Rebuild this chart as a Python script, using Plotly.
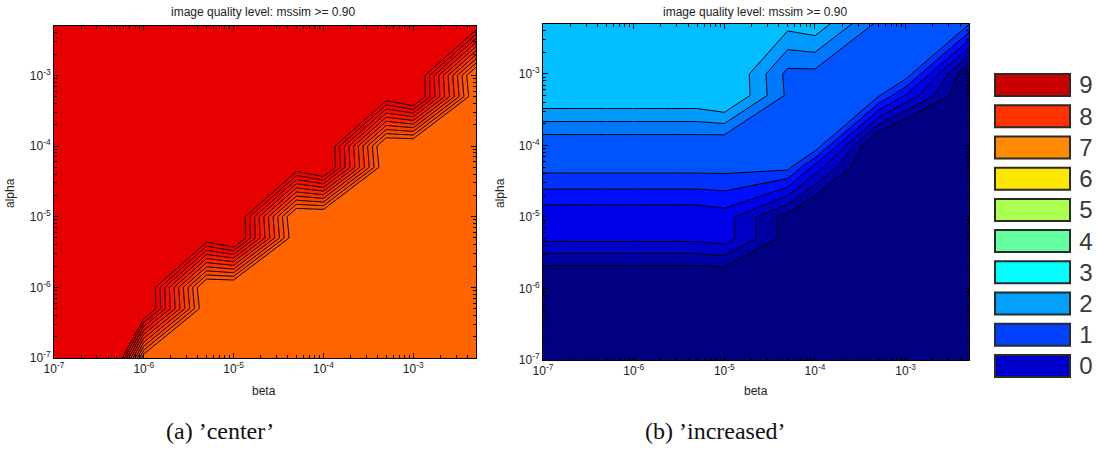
import math
import plotly.graph_objects as go

# sampling grid of the parameter sweep (same for both experiments)
beta = [1e-7, 5e-7, 1e-6, 5e-6, 1e-5, 5e-5, 1e-4, 5e-4, 1e-3, 5e-3]
alpha = [1e-7, 5e-7, 1e-6, 5e-6, 1e-5, 5e-5, 1e-4, 5e-4, 1e-3, 5e-3]

# quality level for the 'center' experiment, one row per alpha (low -> high)
level_center = [
    [9.3, 9.2, 7.95, 7.7, 7.7, 7.7, 7.7, 7.7, 7.7, 7.7],
    [9.3, 9.3, 9.2, 7.9, 7.7, 7.7, 7.7, 7.7, 7.7, 7.7],
    [9.3, 9.3, 9.2, 7.85, 7.85, 7.7, 7.7, 7.7, 7.7, 7.7],
    [9.3, 9.3, 9.3, 9.05, 9.2, 7.9, 7.7, 7.7, 7.7, 7.7],
    [9.3, 9.3, 9.3, 9.3, 9.2, 7.85, 7.85, 7.7, 7.7, 7.7],
    [9.3, 9.3, 9.3, 9.3, 9.3, 9.05, 9.2, 7.9, 7.7, 7.7],
    [9.3, 9.3, 9.3, 9.3, 9.3, 9.3, 9.2, 7.85, 7.85, 7.7],
    [9.3, 9.3, 9.3, 9.3, 9.3, 9.3, 9.3, 9.05, 9.2, 7.9],
    [9.3, 9.3, 9.3, 9.3, 9.3, 9.3, 9.3, 9.3, 9.2, 7.85],
    [9.3, 9.3, 9.3, 9.3, 9.3, 9.3, 9.3, 9.3, 9.3, 9.05],
]

# quality level for the 'increased' experiment, one row per alpha (low -> high)
level_increased = [
    [-1.5, -1.5, -1.5, -1.5, -1.5, -1.5, -1.5, -1.5, -1.5, -1.5],
    [-1.5, -1.5, -1.5, -1.5, -1.5, -1.5, -1.5, -1.5, -1.5, -1.5],
    [-1.425, -1.425, -1.425, -1.425, -1.425, -1.5, -1.5, -1.5, -1.5, -1.5],
    [2.75, 2.75, 2.75, 2.75, 3.0, 0.0, -1.5, -1.5, -1.5, -1.5],
    [2.75, 2.75, 2.75, 2.75, 3.0, 0.0, -1.5, -1.5, -1.5, -1.5],
    [5.875, 5.875, 5.875, 5.875, 5.875, 5.86, 3.14, -1.5, -1.5, -1.5],
    [5.66, 5.66, 5.66, 5.66, 5.55, 6.0, 6.3, -1.5, -2.9, -1.5],
    [9.5, 9.5, 9.5, 9.5, 10.0, 6.3, 6.1, 5.64, 3.4, -0.8],
    [9.5, 9.5, 9.5, 9.5, 10.0, 6.2, 6.2, 6.0, 6.13, -0.8],
    [9.7, 9.7, 9.7, 9.7, 9.7, 8.87, 9.2, 6.27, 6.1, 5.55],
]

# contour levels of each panel
center_start, center_end, center_step = 8.05, 8.95, 0.1
increased_start, increased_end, increased_step = 0.5, 8.5, 1.0

# fill colour of each band between consecutive contour levels (lowest first)
center_bands = ["rgb(255,100,0)", "rgb(255,87,0)", "rgb(255,75,0)", "rgb(255,62,0)",
                "rgb(255,50,0)", "rgb(255,37,0)", "rgb(255,25,0)", "rgb(255,12,0)",
                "rgb(255,0,0)", "rgb(242,0,0)", "rgb(230,0,0)"]
increased_bands = ["rgb(0,0,128)", "rgb(0,0,163)", "rgb(0,0,198)", "rgb(0,0,233)",
                   "rgb(0,14,255)", "rgb(0,49,255)", "rgb(0,84,255)", "rgb(0,119,255)",
                   "rgb(0,155,255)", "rgb(0,190,255)"]

# colour key
key_labels = ["0", "1", "2", "3", "4", "5", "6", "7", "8", "9"]
key_colors = ["#0000CC", "#0040FF", "#00A0FF", "#00FFFF", "#64FFA0",
              "#AAFF50", "#FFE600", "#FF8C00", "#FF3200", "#C80000"]
key_size = [1, 1, 1, 1, 1, 1, 1, 1, 1, 1]

tick_vals = [1e-7, 1e-6, 1e-5, 1e-4, 1e-3]
tick_text = ["10<sup>-7</sup>", "10<sup>-6</sup>", "10<sup>-5</sup>",
             "10<sup>-4</sup>", "10<sup>-3</sup>"]

panel_title = "image quality level: mssim >= 0.90"
captions = ["(a) \u2019center\u2019", "(b) \u2019increased\u2019"]

W, H = 1096, 451
SANS = "Liberation Sans, Arial, sans-serif"
SERIF = "Liberation Serif, Times New Roman, serif"


def band_scale(colors):
    n = len(colors) - 1
    return [[i / n, c] for i, c in enumerate(colors)]


def px_x(p):
    return p / W


def px_y(p):
    return (H - p) / H


fig = go.Figure()

fig.add_trace(go.Contour(
    x=beta, y=alpha, z=level_center,
    contours=dict(start=center_start, end=center_end, size=center_step,
                  coloring="fill", showlines=True),
    line=dict(color="black", width=1, smoothing=0),
    colorscale=band_scale(center_bands), showscale=False,
    hoverinfo="skip", xaxis="x", yaxis="y",
))

fig.add_trace(go.Contour(
    x=beta, y=alpha, z=level_increased,
    contours=dict(start=increased_start, end=increased_end, size=increased_step,
                  coloring="fill", showlines=True),
    line=dict(color="black", width=1, smoothing=0),
    colorscale=band_scale(increased_bands), showscale=False,
    hoverinfo="skip", xaxis="x2", yaxis="y2",
))

fig.add_trace(go.Bar(
    x=key_size, y=key_labels, orientation="h",
    marker=dict(color=key_colors, line=dict(color="#2a2a2a", width=2)),
    hoverinfo="skip", xaxis="x3", yaxis="y3", showlegend=False,
))

log_range = [-7, math.log10(5e-3)]


def log_axis(domain, anchor):
    return dict(
        type="log", range=log_range, domain=domain, anchor=anchor,
        tickmode="array", tickvals=tick_vals, ticktext=tick_text,
        ticks="inside", ticklen=5, tickcolor="black", tickwidth=1,
        minor=dict(ticks="inside", ticklen=3, tickcolor="black", dtick="D1",
                   showgrid=False),
        showline=True, linecolor="black", linewidth=1, mirror="allticks",
        showgrid=False, zeroline=False,
        tickfont=dict(family=SANS, size=12, color="#222"),
    )


layout_axes = dict(
    xaxis=log_axis([px_x(54), px_x(476)], "y"),
    yaxis=log_axis([px_y(358), px_y(26)], "x"),
    xaxis2=log_axis([px_x(543), px_x(969)], "y2"),
    yaxis2=log_axis([px_y(360), px_y(24)], "x2"),
    xaxis3=dict(domain=[px_x(992.75), px_x(1072.25)], range=[-0.03, 1.03],
                visible=False, anchor="y3", fixedrange=True),
    yaxis3=dict(domain=[px_y(381.6), px_y(69.4)], range=[-0.5, 9.5],
                type="category", categoryorder="array", categoryarray=key_labels,
                side="right", anchor="x3", showgrid=False, zeroline=False,
                showline=False, ticks="", ticklabelstandoff=6,
                tickfont=dict(family=SANS, size=24, color="#3a3a3a")),
)

annotations = []
for cx in (263, 755):
    annotations.append(dict(text=panel_title, x=px_x(cx), y=px_y(12), xref="paper",
                            yref="paper", showarrow=False, xanchor="center",
                            yanchor="middle", font=dict(family=SANS, size=12, color="#222")))
for cx in (264, 756):
    annotations.append(dict(text="beta", x=px_x(cx), y=px_y(391), xref="paper",
                            yref="paper", showarrow=False, xanchor="center",
                            yanchor="middle", font=dict(family=SANS, size=12, color="#222")))
for cx in (10, 500):
    annotations.append(dict(text="alpha", x=px_x(cx), y=px_y(193), xref="paper",
                            yref="paper", showarrow=False, textangle=-90,
                            xanchor="center", yanchor="middle",
                            font=dict(family=SANS, size=12, color="#222")))
for cx, txt in zip((220, 715), captions):
    annotations.append(dict(text=txt, x=px_x(cx), y=px_y(431), xref="paper",
                            yref="paper", showarrow=False, xanchor="center",
                            yanchor="middle", font=dict(family=SERIF, size=24, color="#111")))

fig.update_layout(
    template="none", width=W, height=H,
    margin=dict(l=0, r=0, t=0, b=0, pad=0),
    paper_bgcolor="white", plot_bgcolor="white",
    showlegend=False, bargap=0.295,
    annotations=annotations,
    **layout_axes,
)

fig.write_html("out.html")
